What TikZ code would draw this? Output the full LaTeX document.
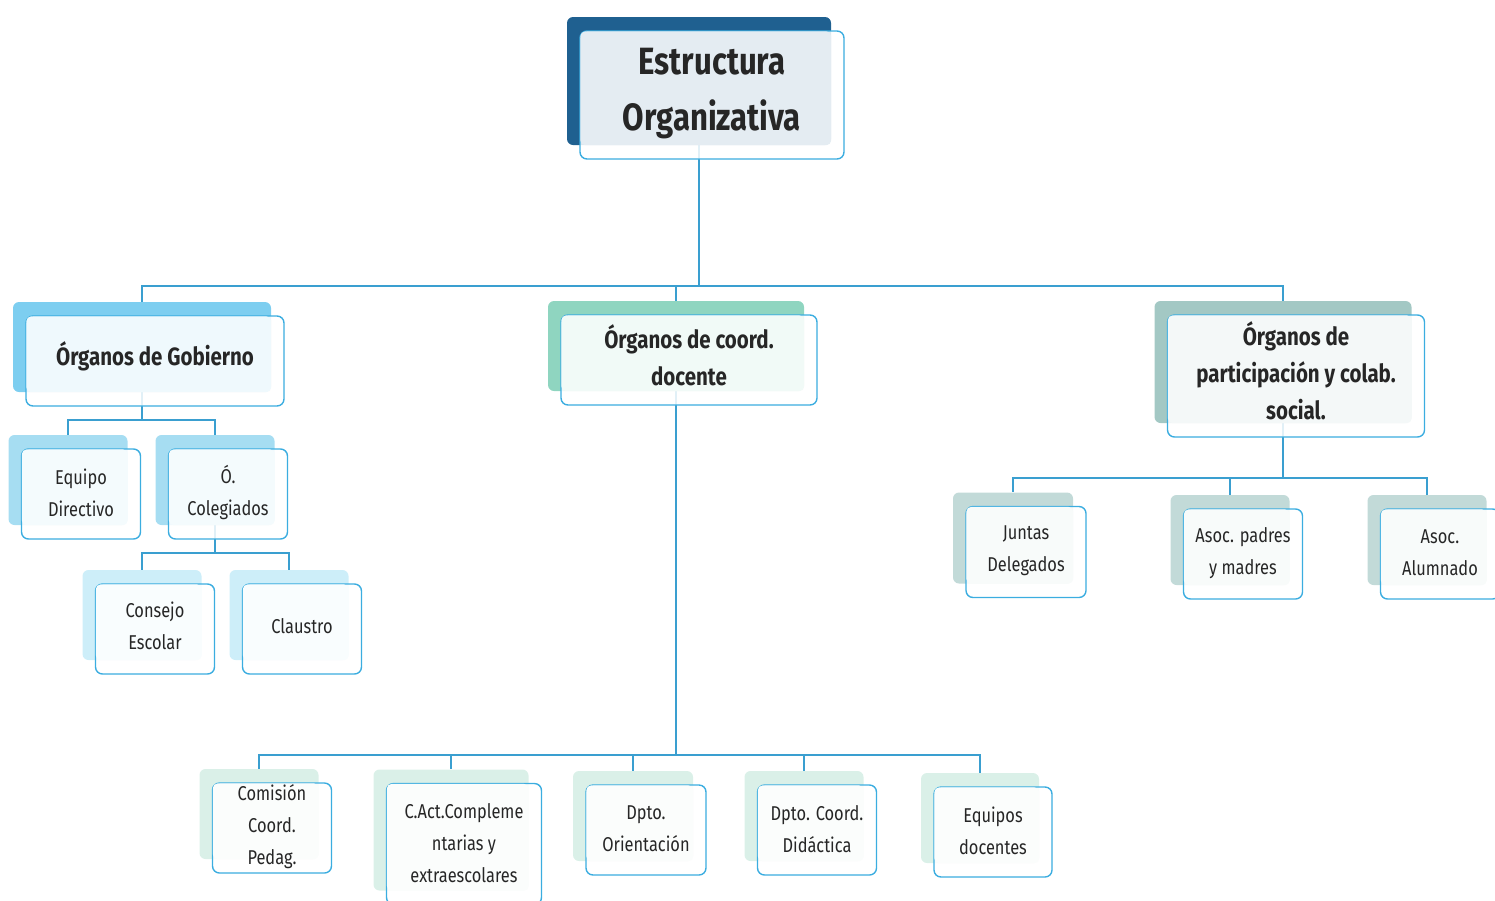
\documentclass[tikz,border=0pt]{standalone}
\usepackage{fontspec}
\setmainfont[FakeStretch=0.82]{Fira Sans}
\usetikzlibrary{calc,positioning}
\pgfdeclarelayer{background}
\pgfsetlayers{background,main}
\definecolor{azul}{HTML}{1F6090}
\definecolor{celeste}{HTML}{7DCEF0}
\definecolor{celeste2}{HTML}{A6DDF2}
\definecolor{celeste3}{HTML}{CDEEF9}
\definecolor{menta}{HTML}{8FD5C0}
\definecolor{menta2}{HTML}{DAF0E8}
\definecolor{gris}{HTML}{A3C8C4}
\definecolor{gris2}{HTML}{C2DAD8}
\definecolor{borde}{HTML}{3BADE0}
\definecolor{linea}{HTML}{3A9FD0}
\tikzset{fondo/.style={rounded corners=6pt,inner sep=0pt}}
\tikzset{marco/.style={draw=borde,line width=1.4pt,fill=white,fill opacity=0.85,rounded corners=7pt,inner sep=0pt}}
\tikzset{texto/.style={align=center,text=black!85,yshift=1pt}}
\tikzset{conector/.style={draw=linea,line width=1.6pt}}
\tikzset{rama/.style={to path={(\tikztostart.south) -- ++(0,#1) -| (\tikztotarget.north)}}}
\newcommand\titulo{\fontsize{38}{56}\selectfont\bfseries}
\newcommand\medio{\fontsize{25}{37}\selectfont\bfseries}
\newcommand\chico{\fontsize{20}{32}\selectfont}
% caja: [opciones del texto] nombre, centro del fondo, ancho, alto, color, letra, texto
\newcommand\caja[8][]{%
  \node[fondo,fill=#6,minimum width=#4,minimum height=#5] (#2) at (#3) {};
  \node[marco,minimum width=#4,minimum height=#5] (#2m) at ($(#2)+(13,14)$) {};
  \fill[#6!12!white,rounded corners=5pt] ($(#2m.north west)+(1pt,-1pt)$) rectangle (#2.south east);
  \node[texto,font=#7,#1] (#2t) at (#2m) {#8};
}
\begin{document}
\begin{tikzpicture}[x=1pt,y=-1pt]
  \useasboundingbox (0,0) rectangle (1495,900);
  \caja{top}{699,81}{264}{128}{azul}{\titulo}{Estructura\\Organizativa}
  \caja[yshift=4pt]{gob}{142,347}{258}{90}{celeste}{\medio}{Órganos de Gobierno}
  \caja[yshift=4pt]{coord}{676,346}{256}{90}{menta}{\medio}{Órganos de coord.\\docente}
  \caja[yshift=4pt]{part}{1283,362}{257}{122}{gris}{\medio}{Órganos de\\participación y colab.\\social.}
  \caja{equipo}{68,480}{119}{90}{celeste2}{\chico}{Equipo\\Directivo}
  \caja{coleg}{215,480}{119}{90}{celeste2}{\chico}{Ó.\\Colegiados}
  \caja[yshift=2pt]{consejo}{142,615}{119}{90}{celeste3}{\chico}{Consejo\\Escolar}
  \caja[yshift=2pt]{claustro}{289,615}{119}{90}{celeste3}{\chico}{Claustro}
  \caja{juntas}{1013,538}{120}{91}{gris2}{\chico}{Juntas\\Delegados}
  \caja{padres}{1230,540}{119}{90}{gris2}{\chico}{Asoc. padres\\y madres}
  \caja{alum}{1427,540}{119}{90}{gris2}{\chico}{Asoc.\\Alumnado}
  \caja{comision}{259,814}{119}{90}{menta2}{\chico}{Comisión\\Coord.\\Pedag.}
  \caja{cact}{451,830}{155}{121}{menta2}{\chico}{C.Act.Compleme\\ntarias y\\extraescolares}
  \caja{orient}{633,816}{120}{90}{menta2}{\chico}{Dpto.\\Orientación}
  \caja{didac}{804,816}{119}{90}{menta2}{\chico}{Dpto. Coord.\\Didáctica}
  \caja{docentes}{980,818}{118}{90}{menta2}{\chico}{Equipos\\docentes}
  % connectors under the boxes
  \begin{pgfonlayer}{background}
  \draw[conector]
    (top) edge[rama=141] (gob)
    (top) edge[rama=141] (coord)
    (top) edge[rama=141] (part)
    (gob) edge[rama=28] (equipo)
    (gob) edge[rama=28] (coleg)
    (coleg) edge[rama=28] (consejo)
    (coleg) edge[rama=28] (claustro)
    (part) edge[rama=55] (juntas)
    (part) edge[rama=55] (padres)
    (part) edge[rama=55] (alum)
    (coord) edge[rama=364] (comision)
    (coord) edge[rama=364] (cact)
    (coord) edge[rama=364] (orient)
    (coord) edge[rama=364] (didac)
    (coord) edge[rama=364] (docentes);
  \end{pgfonlayer}
\end{tikzpicture}
\end{document}
